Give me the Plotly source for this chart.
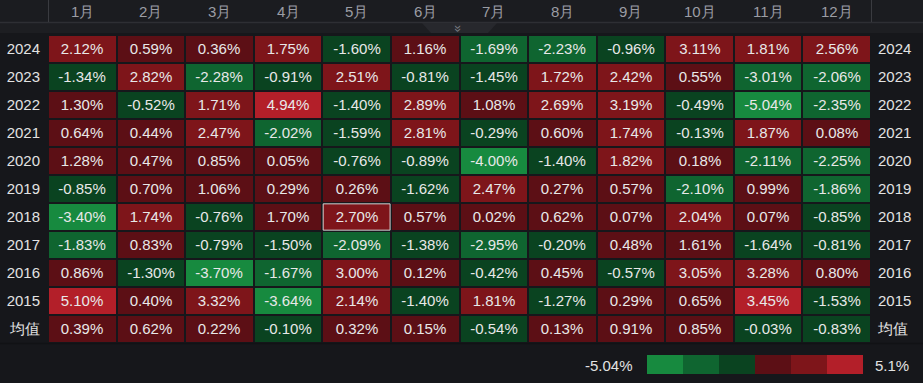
import plotly.graph_objects as go

months = ["1月", "2月", "3月", "4月", "5月", "6月", "7月", "8月", "9月", "10月", "11月", "12月"]
row_labels = ["2024", "2023", "2022", "2021", "2020", "2019", "2018", "2017", "2016", "2015", "均值"]

r2024 = [2.12, 0.59, 0.36, 1.75, -1.60, 1.16, -1.69, -2.23, -0.96, 3.11, 1.81, 2.56]
r2023 = [-1.34, 2.82, -2.28, -0.91, 2.51, -0.81, -1.45, 1.72, 2.42, 0.55, -3.01, -2.06]
r2022 = [1.30, -0.52, 1.71, 4.94, -1.40, 2.89, 1.08, 2.69, 3.19, -0.49, -5.04, -2.35]
r2021 = [0.64, 0.44, 2.47, -2.02, -1.59, 2.81, -0.29, 0.60, 1.74, -0.13, 1.87, 0.08]
r2020 = [1.28, 0.47, 0.85, 0.05, -0.76, -0.89, -4.00, -1.40, 1.82, 0.18, -2.11, -2.25]
r2019 = [-0.85, 0.70, 1.06, 0.29, 0.26, -1.62, 2.47, 0.27, 0.57, -2.10, 0.99, -1.86]
r2018 = [-3.40, 1.74, -0.76, 1.70, 2.70, 0.57, 0.02, 0.62, 0.07, 2.04, 0.07, -0.85]
r2017 = [-1.83, 0.83, -0.79, -1.50, -2.09, -1.38, -2.95, -0.20, 0.48, 1.61, -1.64, -0.81]
r2016 = [0.86, -1.30, -3.70, -1.67, 3.00, 0.12, -0.42, 0.45, -0.57, 3.05, 3.28, 0.80]
r2015 = [5.10, 0.40, 3.32, -3.64, 2.14, -1.40, 1.81, -1.27, 0.29, 0.65, 3.45, -1.53]
avg = [0.39, 0.62, 0.22, -0.10, 0.32, 0.15, -0.54, 0.13, 0.91, 0.85, -0.03, -0.83]

z = [r2024, r2023, r2022, r2021, r2020, r2019, r2018, r2017, r2016, r2015, avg]

# colour bins (green -> red)
bin_colors = ["#178a3f", "#0f6530", "#0a4320", "#5c0f15", "#7e151a", "#b31f29"]
thresholds = [-3.37, -1.655, 0.0, 1.705, 3.40]

zmin = min(min(r) for r in z)
zmax = max(max(r) for r in z)

def pos(v):
    return (v - zmin) / (zmax - zmin)

edges = [0.0] + [pos(t) for t in thresholds] + [1.0]
cscale = []
for k, c in enumerate(bin_colors):
    cscale.append([edges[k], c])
    cscale.append([edges[k + 1], c])

W, H = 923, 383
BG = "#16171b"
FONT = "Liberation Sans, Arial"

def py(px):
    return 1 - px / H

n_rows = len(row_labels)
fig = go.Figure()

fig.add_trace(go.Heatmap(
    z=z,
    x=list(range(len(months))),
    y=list(range(n_rows)),
    colorscale=cscale, zmin=zmin, zmax=zmax,
    showscale=False, xgap=2, ygap=2,
    texttemplate="%{z:.2f}%",
    textfont=dict(color="#e8e8e8", size=15, family=FONT),
    hoverinfo="skip",
))
# invisible trace for the right-hand axis
fig.add_trace(go.Scatter(x=[0] * n_rows, y=list(range(n_rows)), yaxis="y2",
                         mode="markers", marker=dict(opacity=0), hoverinfo="skip",
                         showlegend=False))

# legend bar
fig.add_trace(go.Heatmap(
    z=[list(range(len(bin_colors)))],
    xaxis="x3", yaxis="y3",
    colorscale=[[i / (len(bin_colors) - 1), c] for i, c in enumerate(bin_colors)],
    showscale=False, hoverinfo="skip",
))

xd = [48 / W, 871 / W]
yd = [py(343), py(35)]

fig.update_layout(
    width=W, height=H,
    margin=dict(l=0, r=0, t=0, b=0, autoexpand=False),
    paper_bgcolor=BG, plot_bgcolor=BG,
    font=dict(family=FONT, color="#e2e2e2", size=15),
    showlegend=False,
    xaxis=dict(domain=xd, range=[-0.5, len(months) - 0.5], showgrid=False,
               zeroline=False, showticklabels=False, fixedrange=True, automargin=False),
    yaxis=dict(domain=yd, range=[n_rows - 0.5, -0.5], showgrid=False, zeroline=False,
               tickmode="array", tickvals=list(range(n_rows)), ticktext=row_labels,
               ticks="", ticklabelstandoff=7, automargin=False,
               tickfont=dict(size=15, color="#e2e2e2")),
    yaxis2=dict(overlaying="y", side="right", range=[n_rows - 0.5, -0.5],
                showgrid=False, zeroline=False, automargin=False,
                tickmode="array", tickvals=list(range(n_rows)), ticktext=row_labels,
                ticks="", ticklabelstandoff=6, tickfont=dict(size=15, color="#e2e2e2")),
    xaxis3=dict(domain=[647 / W, 863 / W], anchor="y3", visible=False, fixedrange=True),
    yaxis3=dict(domain=[py(374), py(355)], anchor="x3", visible=False, fixedrange=True),
)

shapes = [
    dict(type="rect", xref="paper", yref="paper", x0=0, x1=1, y0=py(22), y1=1,
         fillcolor="#1b1c20", line=dict(width=0), layer="below"),
    dict(type="rect", xref="paper", yref="paper", x0=0, x1=1, y0=py(33), y1=py(22),
         fillcolor="#1d1e22", line=dict(width=0), layer="below"),
    dict(type="line", xref="paper", yref="paper", x0=0, x1=1, y0=py(22.5), y1=py(22.5),
         line=dict(color="#2e2f34", width=1.5)),
    dict(type="line", xref="paper", yref="paper", x0=48.5 / W, x1=48.5 / W, y0=py(22), y1=1,
         line=dict(color="#3a3b40", width=1)),
    dict(type="line", xref="paper", yref="paper", x0=871.5 / W, x1=871.5 / W, y0=py(22), y1=1,
         line=dict(color="#3a3b40", width=1)),
    dict(type="path", xref="paper", yref="paper",
         path=f"M {422 / W} {py(23)} L {497 / W} {py(23)} L {488 / W} {py(33)} L {431 / W} {py(33)} Z",
         fillcolor="#27282d", line=dict(width=0)),
    dict(type="line", xref="paper", yref="paper", x0=0, x1=1, y0=py(343.5), y1=py(343.5),
         line=dict(color="#111215", width=1.5)),
    # highlighted cell (2018, 5月)
    dict(type="rect", xref="x", yref="y", x0=3.5 + 0.012, x1=4.5 - 0.012,
         y0=6 - 0.5 + 0.03, y1=6 + 0.5 - 0.03,
         line=dict(color="#d4d4d4", width=1), fillcolor="rgba(0,0,0,0)"),
]
fig.update_layout(shapes=shapes)

ann = []
for j, m in enumerate(months):
    ann.append(dict(x=j, y=py(11), xref="x", yref="paper", text=m, showarrow=False,
                    xanchor="center", yanchor="middle",
                    font=dict(size=15, color="#9b9da4")))
ann.append(dict(x=459 / W, y=py(28), xref="paper", yref="paper", text="»", textangle=90,
                showarrow=False, xanchor="center", yanchor="middle",
                font=dict(size=13, color="#7e8087")))
ann.append(dict(x=635 / W, y=py(365), xref="paper", yref="paper", text=f"{zmin:g}%",
                showarrow=False, xanchor="right", yanchor="middle",
                font=dict(size=15, color="#e2e2e2")))
ann.append(dict(x=873 / W, y=py(365), xref="paper", yref="paper", text=f"{zmax:g}%",
                showarrow=False, xanchor="left", yanchor="middle",
                font=dict(size=15, color="#e2e2e2")))
fig.update_layout(annotations=ann)

fig.write_html("out.html",
               config={"displayModeBar": False, "staticPlot": True},
               post_script="document.body.style.margin='0';document.body.style.background='#16171b';")
